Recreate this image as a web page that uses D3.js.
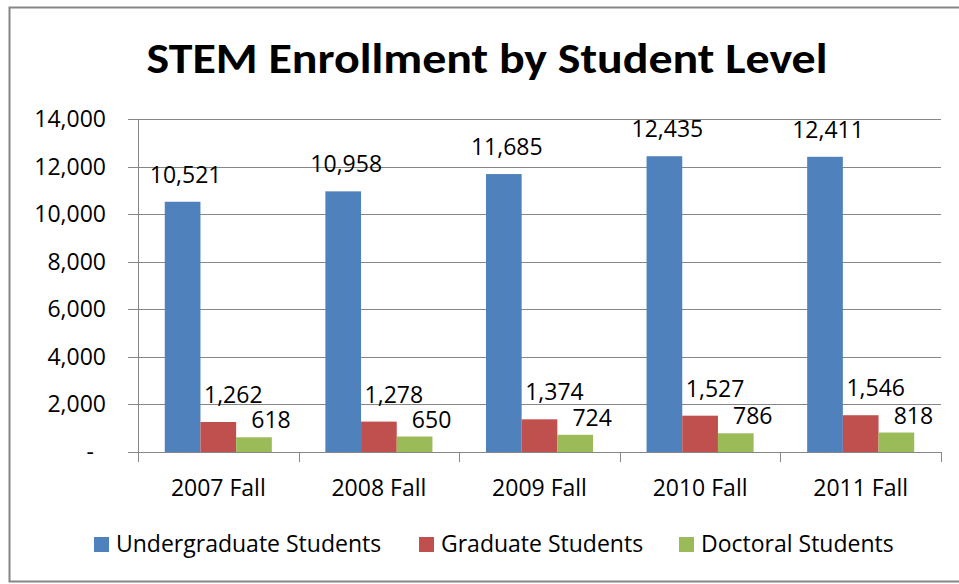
<!DOCTYPE html>
<html>
<head>
<meta charset="utf-8">
<script src="https://cdn.jsdelivr.net/npm/d3@7"></script>
<style>
  body { margin: 0; background: #fff; }
  svg { display: block; }
</style>
</head>
<body>
<script>
// data
var categories = ["2007 Fall", "2008 Fall", "2009 Fall", "2010 Fall", "2011 Fall"];
var seriesNames = ["Undergraduate Students", "Graduate Students", "Doctoral Students"];
var undergrad = [10521, 10958, 11685, 12435, 12411];
var graduate = [1262, 1278, 1374, 1527, 1546];
var doctoral = [618, 650, 724, 786, 818];
var yTicks = [0, 2000, 4000, 6000, 8000, 10000, 12000, 14000];
var colors = ["#4F81BD", "#C0504D", "#9BBB59"];

var font = "'Open Sans', 'Noto Sans', sans-serif";
var titleFont = "Calibri, Carlito, Lato, sans-serif";
var fontSize = "23px";

var outerWidth = 959,
    outerHeight = 584;

var plot = { left: 138, right: 941, top: 119, bottom: 452 };

var svg = d3.select("body")
    .append("svg")
    .attr("width", outerWidth)
    .attr("height", outerHeight);

// chart border
svg.append("rect")
    .attr("x", 9.5)
    .attr("y", 7.5)
    .attr("width", 960)
    .attr("height", 574)
    .style("fill", "#fff")
    .style("stroke", "#868686")
    .style("stroke-width", 2);

// title
svg.append("text")
    .attr("x", 487)
    .attr("y", 73)
    .attr("text-anchor", "middle")
    .attr("font-family", titleFont)
    .attr("font-size", "42px")
    .attr("font-weight", "700")
    .attr("textLength", 681)
    .attr("lengthAdjust", "spacingAndGlyphs")
    .text("STEM Enrollment by Student Level");

var x0 = d3.scaleBand()
    .domain(categories)
    .range([plot.left, plot.right])
    .padding(0);

var x1 = d3.scaleBand()
    .domain(d3.range(seriesNames.length))
    .range([0, x0.bandwidth()])
    .paddingInner(0)
    .paddingOuter(0.75);

var y = d3.scaleLinear()
    .domain([0, 14000])
    .range([plot.bottom, plot.top]);

// gridlines
svg.append("g")
    .selectAll("line")
    .data(yTicks)
    .enter()
    .append("line")
    .attr("x1", plot.left - 10)
    .attr("x2", plot.right)
    .attr("y1", function(d) { return Math.round(y(d)) + 0.5; })
    .attr("y2", function(d) { return Math.round(y(d)) + 0.5; })
    .style("stroke", "#868686")
    .style("stroke-width", 1);

// y axis line
svg.append("line")
    .attr("x1", plot.left + 0.5)
    .attr("x2", plot.left + 0.5)
    .attr("y1", plot.top)
    .attr("y2", plot.bottom)
    .style("stroke", "#868686");

// y tick labels
svg.append("g")
    .selectAll("text")
    .data(yTicks)
    .enter()
    .append("text")
    .attr("x", function(d) { return d === 0 ? 94 : 106; })
    .attr("y", function(d) { return y(d) + 8; })
    .attr("text-anchor", "end")
    .attr("font-family", font)
    .attr("font-size", fontSize)
    .attr("fill", "#000")
    .text(function(d) { return d === 0 ? "-" : d3.format(",")(d); });

// category tick marks
var bounds = categories.map(function(c) { return x0(c); }).concat([plot.right]);
svg.append("g")
    .selectAll("line")
    .data(bounds)
    .enter()
    .append("line")
    .attr("x1", function(d) { return Math.round(d) + 0.5; })
    .attr("x2", function(d) { return Math.round(d) + 0.5; })
    .attr("y1", plot.bottom)
    .attr("y2", plot.bottom + 10)
    .style("stroke", "#868686");

// category labels
svg.append("g")
    .selectAll("text")
    .data(categories)
    .enter()
    .append("text")
    .attr("x", function(d) { return x0(d) + x0.bandwidth() / 2; })
    .attr("y", 496)
    .attr("text-anchor", "middle")
    .attr("font-family", font)
    .attr("font-size", fontSize)
    .attr("fill", "#000")
    .text(function(d) { return d; });

// bars
var allSeries = [undergrad, graduate, doctoral];
var rows = [];
categories.forEach(function(c, i) {
    allSeries.forEach(function(s, k) {
        rows.push({ cat: c, k: k, value: s[i] });
    });
});

svg.selectAll(".bar")
    .data(rows)
    .enter()
    .append("rect")
    .attr("class", "bar")
    .attr("x", function(d) { return x0(d.cat) + x1(d.k); })
    .attr("width", x1.bandwidth())
    .attr("y", function(d) { return y(d.value); })
    .attr("height", function(d) { return plot.bottom - y(d.value); })
    .style("fill", function(d) { return colors[d.k]; });

// value labels (Excel placed them a bit off-centre)
var labelDx = [3, 15, 17],
    labelDy = [-19, -19, -9];

svg.selectAll(".val")
    .data(rows)
    .enter()
    .append("text")
    .attr("class", "val")
    .attr("x", function(d) { return x0(d.cat) + x1(d.k) + x1.bandwidth() / 2 + labelDx[d.k]; })
    .attr("y", function(d) { return y(d.value) + labelDy[d.k]; })
    .attr("text-anchor", "middle")
    .attr("font-family", font)
    .attr("font-size", fontSize)
    .attr("fill", "#000")
    .text(function(d) { return d3.format(",")(d.value); });

// legend
var legendX = [94, 419, 679];
var legend = svg.append("g")
    .selectAll("g")
    .data(seriesNames)
    .enter()
    .append("g")
    .attr("transform", function(d, i) { return "translate(" + legendX[i] + ",537)"; });

legend.append("rect")
    .attr("width", 15)
    .attr("height", 15)
    .style("fill", function(d, i) { return colors[i]; });

legend.append("text")
    .attr("x", 22)
    .attr("y", 15)
    .attr("font-family", font)
    .attr("font-size", fontSize)
    .attr("fill", "#000")
    .text(function(d) { return d; });
</script>
</body>
</html>
